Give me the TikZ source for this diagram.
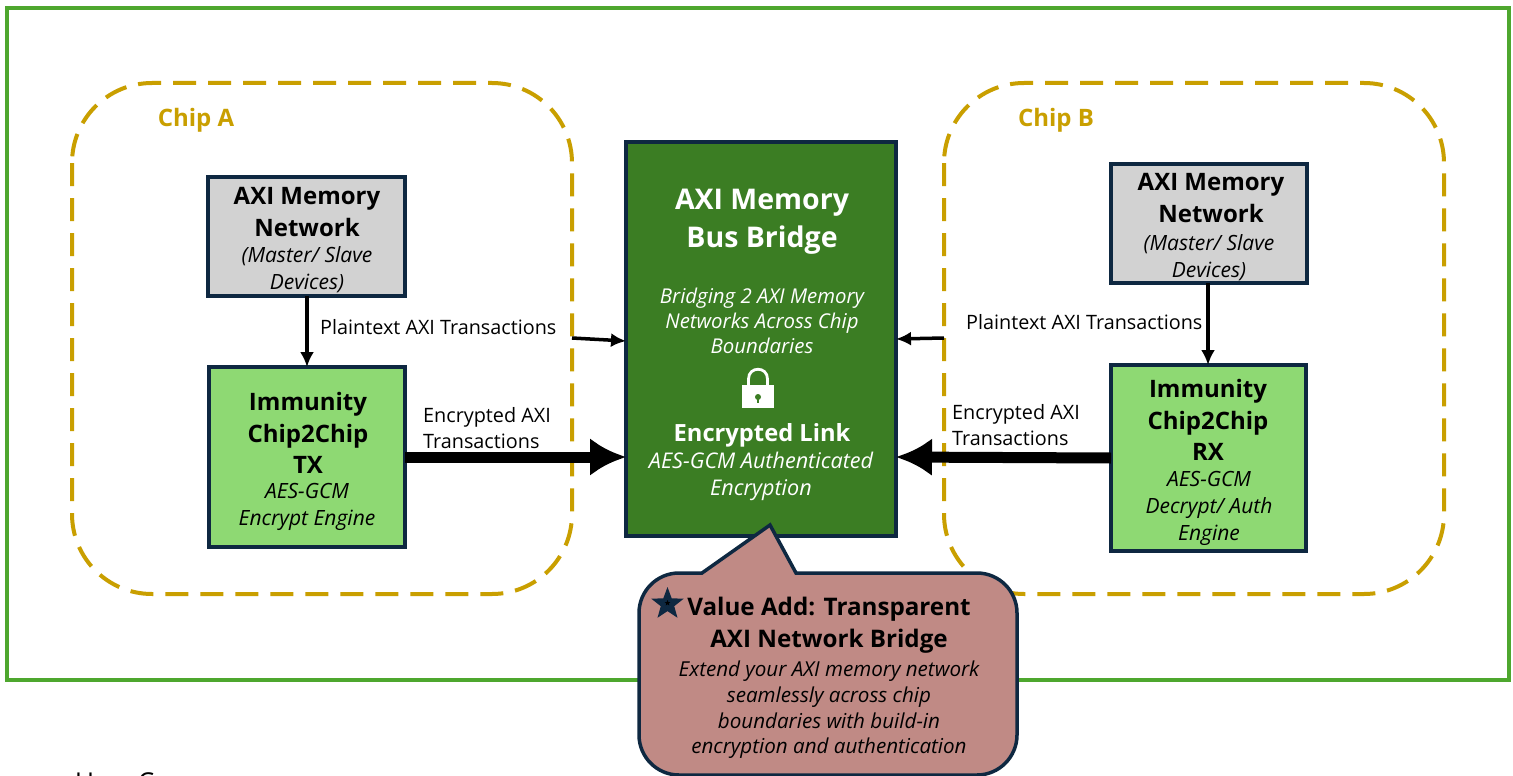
\documentclass[tikz,border=0pt]{standalone}
\usepackage{fontspec}
\setmainfont{Open Sans}
\usetikzlibrary{arrows.meta,shapes.geometric}
\definecolor{frameg}{HTML}{4EA72E}
\definecolor{chipc}{HTML}{C99F00}
\definecolor{navy}{HTML}{0E2841}
\definecolor{greyb}{HTML}{D2D2D2}
\definecolor{lgreen}{HTML}{8ED973}
\definecolor{dgreen}{HTML}{3B7D23}
\definecolor{rose}{HTML}{C08A85}
\tikzset{
 x=1pt,y=-1pt,
 chipbox/.style={draw=chipc,line width=4pt,dash pattern=on 23pt off 12pt,rounded corners=80pt},
 blockb/.style={draw=navy,line width=3.5pt},
 ttl/.style={font=\fontsize{24}{31.5}\selectfont\bfseries,align=center,inner sep=0pt,text=black},
 sub/.style={font=\fontsize{20.5}{26}\selectfont\itshape,align=center,inner sep=0pt,text=black},
 subw/.style={font=\fontsize{21}{27}\selectfont\itshape,align=center,inner sep=0pt,text=black},
 lbl/.style={font=\fontsize{19.8}{26.5}\selectfont,align=left,inner sep=0pt,text=black},
 thin arrow/.style={-{Latex[length=15pt,width=14pt]},line width=3.5pt,black},
 thick arrow/.style={-{Latex[length=36pt,width=38pt]},line width=11pt,black},
}
\begin{document}
\begin{tikzpicture}
\useasboundingbox (0,0) rectangle (1513,776);
\fill[white] (0,0) rectangle (1513,776);
\node[inner sep=0pt,anchor=base west,font=\fontsize{26}{28}\selectfont] (usecase) at (75,791) {Use\hspace{10pt} C};
\draw[frameg,line width=3.5pt] (7,8) rectangle (1509,680);
\draw[chipbox] (72,83) rectangle (572,594);
\draw[chipbox] (944,83) rectangle (1444,594);
\node[font=\fontsize{24}{26}\selectfont\bfseries,text=chipc,inner sep=0pt] (chipa) at (196,120) {Chip A};
\node[font=\fontsize{24}{26}\selectfont\bfseries,text=chipc,inner sep=0pt] (chipb) at (1056,120) {Chip B};
% Chip A blocks
\draw[blockb,fill=greyb] (208,177) rectangle (405,296);
\coordinate (netAs) at (307,296);
\node[ttl] (netAt) at (307,212) {AXI Memory\\Network};
\node[subw] (netAd) at (307,270) {(Master/ Slave\\Devices)};
\draw[blockb,fill=lgreen] (209,367) rectangle (405,547);
\coordinate (txN) at (307,367);
\coordinate (txE) at (405,457);
\node[ttl] (txt) at (308,433) {Immunity\\Chip2Chip\\TX};
\node[subw] (txd) at (307,507) {AES-GCM\\Encrypt Engine};
% Chip B blocks
\draw[blockb,fill=greyb] (1111,164) rectangle (1307,283);
\coordinate (netBs) at (1208,283);
\node[ttl] (netBt) at (1211,198) {AXI Memory\\Network};
\node[subw] (netBd) at (1209,258) {(Master/ Slave\\Devices)};
\draw[blockb,fill=lgreen] (1111,365) rectangle (1306,551);
\coordinate (rxN) at (1208,365);
\coordinate (rxW) at (1111,458);
\node[ttl] (rxt) at (1208,420) {Immunity\\Chip2Chip\\RX};
\node[subw] (rxd) at (1209,508) {AES-GCM\\Decrypt/ Auth\\Engine};
% bridge
\draw[blockb,fill=dgreen] (626,142) rectangle (896,536);
\coordinate (brW1) at (626,341);
\coordinate (brE1) at (896,339);
\coordinate (brW2) at (626,457);
\coordinate (brE2) at (896,457);
\node[font=\fontsize{28.5}{38}\selectfont\bfseries,align=center,text=white,inner sep=0pt] (brt) at (762,222) {AXI Memory\\Bus Bridge};
\node[sub,text=white,font=\fontsize{20.4}{25}\selectfont\itshape] (brd) at (762,321) {Bridging 2 AXI Memory\\Networks Across Chip\\Boundaries};
\node[font=\fontsize{23.7}{26}\selectfont\bfseries,text=white,inner sep=0pt] (brl) at (762,435) {Encrypted Link};
\node[subw,text=white,font=\fontsize{21.6}{27}\selectfont\itshape] (bre) at (761,476) {AES-GCM Authenticated\\Encryption};
% lock
\draw[white,line width=2.8pt] (748.5,386) -- (748.5,379) .. controls (748.5,366) and (767.5,366) .. (767.5,379) -- (767.5,386);
\fill[white] (742,385) rectangle (774,408);
\fill[dgreen] (758,397) circle (3pt);
\fill[dgreen] (756.8,397) rectangle (759.2,403);
% connectors
\draw[thin arrow] (netAs) -- (txN);
\draw[thin arrow] (netBs) -- (rxN);
\coordinate (plA) at (572,338);
\coordinate (plB) at (944,338);
\draw[thin arrow] (plA) -- (brW1);
\draw[thin arrow] (plB) -- (brE1);
\draw[thick arrow] (txE) -- (brW2);
\draw[thick arrow] (rxW) -- (brE2);
\node[lbl,anchor=west] (plAl) at (320,327) {Plaintext AXI Transactions};
\node[lbl,anchor=west] (plBl) at (966,322) {Plaintext AXI Transactions};
\node[lbl,anchor=west] (enAl) at (423,428) {Encrypted AXI\\Transactions};
\node[lbl,anchor=west] (enBl) at (952,425) {Encrypted AXI\\Transactions};
% callout
\draw[navy,line width=3.5pt,fill=rose,line join=miter]
 (702,573) -- (770,525) -- (796,573) -- (977,573)
 .. controls (999,573) and (1017,591) .. (1017,613) -- (1017,735)
 .. controls (1017,757) and (999,775) .. (977,775) -- (679,775)
 .. controls (657,775) and (639,757) .. (639,735) -- (639,613)
 .. controls (639,591) and (657,573) .. (679,573) -- cycle;
\node[star,star points=5,star point ratio=2.4,fill=navy,draw=none,minimum size=34pt,inner sep=0pt] (starn) at (667.5,604) {};
\node[star,star points=5,star point ratio=2.4,fill=black,draw=none,minimum size=6pt,inner sep=0pt] (starc) at (667.5,603) {};
\node[ttl,font=\fontsize{24.2}{32}\selectfont\bfseries] (vt) at (829,625) {Value Add: Transparent\\AXI Network Bridge};
\node[sub,font=\fontsize{20.6}{25.7}\selectfont\itshape] (vd) at (829,710) {Extend your AXI memory network\\seamlessly across chip\\boundaries with build-in\\encryption and authentication};
\end{tikzpicture}
\end{document}
